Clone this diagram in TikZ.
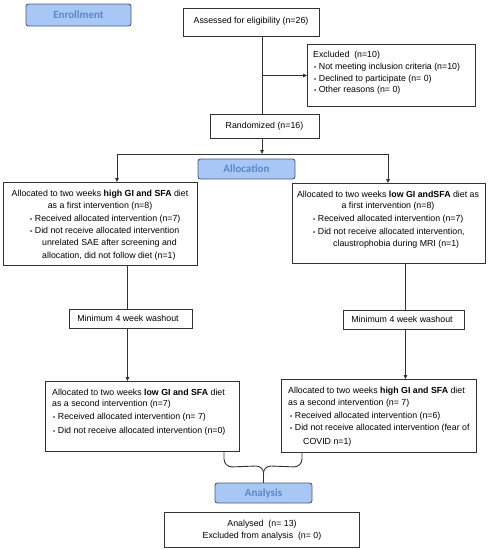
\documentclass[tikz,border=0pt]{standalone}
\usepackage{fontspec}
\setmainfont{Liberation Sans}
\newfontfamily\hdrfont{Carlito}
\usetikzlibrary{arrows.meta}
\definecolor{hdrfill}{HTML}{A9C7F4}
\definecolor{hdrdraw}{HTML}{4B5A78}
\definecolor{hdrtext}{HTML}{5B87C9}
\definecolor{lin}{HTML}{333333}
\newcommand{\bul}{{\fontsize{6}{6}\selectfont\textbullet}\hspace{2.6pt}}
\begin{document}
\begin{tikzpicture}[x=1pt,y=-1pt,
  box/.style={draw=lin, line width=0.9pt, inner sep=0, anchor=north west},
  hdr/.style={draw=hdrdraw, fill=hdrfill, rounded corners=2.5pt, line width=0.9pt,
    font=\hdrfont\bfseries\fontsize{11}{13}\selectfont, text=hdrtext, inner sep=0},
  txt/.style={inner sep=0, font=\fontsize{8.8}{10}\selectfont, text height=6.3pt, text depth=1.8pt},
  tl/.style={txt, anchor=west},
  conn/.style={draw=lin, line width=0.9pt},
  arr/.style={conn, -{Triangle[length=4pt,width=3.6pt]}},
]
\useasboundingbox (0,0) rectangle (489,550);
\fill[white] (0,0) rectangle (489,550);

% headers
\node[hdr, minimum width=105pt, minimum height=22pt] (enr) at (78.5,15) {Enrollment};
\node[hdr, minimum width=97pt, minimum height=20pt] (alloc) at (246.5,169) {Allocation};
\node[hdr, minimum width=97pt, minimum height=20pt] (anal) at (263.5,493) {Analysis};

% boxes
\node[box, minimum width=136pt, minimum height=28pt] (assess) at (183,8) {};
\node[box, minimum width=168pt, minimum height=62pt] (excl) at (307,44) {};
\node[box, minimum width=109pt, minimum height=24pt] (rand) at (210,114) {};
\node[box, minimum width=194pt, minimum height=83pt] (a1) at (3,182) {};
\node[box, minimum width=193pt, minimum height=80pt] (b1) at (292,183) {};
\node[box, minimum width=123pt, minimum height=19pt] (w1) at (69,309) {};
\node[box, minimum width=121pt, minimum height=19pt] (w2) at (343,310) {};
\node[box, minimum width=194pt, minimum height=70pt] (s1) at (45,381) {};
\node[box, minimum width=195pt, minimum height=73pt] (s2) at (281,379) {};
\node[box, minimum width=195pt, minimum height=35pt] (fin) at (164,512) {};

% texts
\node[txt] (t-assess) at (251,21) {Assessed for eligibility (n=26)};
\node[tl] (t-ex1) at (313,55) {Excluded\ \ (n=10)};
\node[tl] (t-ex2) at (314,67) {\bul Not meeting inclusion criteria (n=10)};
\node[tl] (t-ex3) at (314,79) {\bul Declined to participate (n= 0)};
\node[tl] (t-ex4) at (314,90) {\bul Other reasons (n= 0)};
\node[txt] (t-rand) at (264.5,126) {Randomized (n=16)};

\node[txt] (t-a1a) at (100,194) {Allocated to two weeks \textbf{high GI and SFA} diet};
\node[txt] (t-a1b) at (100,206) {as a first intervention (n=8)};
\node[tl] (t-a1c) at (30,219) {\bul Received allocated intervention (n=7)};
\node[tl] (t-a1d) at (30,231) {\bul Did not receive allocated intervention};
\node[tl] (t-a1e) at (42,243) {unrelated SAE after screening and};
\node[tl] (t-a1f) at (42,256) {allocation, did not follow diet (n=1)};

\node[txt] (t-b1a) at (388,195) {Allocated to two weeks \textbf{low GI andSFA} diet as};
\node[txt] (t-b1b) at (388,206) {a first intervention (n=8)};
\node[tl] (t-b1c) at (313,219) {\bul Received allocated intervention (n=7)};
\node[tl] (t-b1d) at (313,232) {\bul Did not receive allocated intervention,};
\node[tl] (t-b1e) at (333,244) {claustrophobia during MRI (n=1)};

\node[txt] (t-w1) at (128,319) {Minimum 4 week washout};
\node[txt] (t-w2) at (402,320) {Minimum 4 week washout};

\node[tl] (t-s1a) at (52,393) {Allocated to two weeks \textbf{low GI and SFA} diet};
\node[tl] (t-s1b) at (52,404) {as a second intervention (n=7)};
\node[tl] (t-s1c) at (53,417) {\bul Received allocated intervention (n= 7)};
\node[tl] (t-s1d) at (53,431) {\bul Did not receive allocated intervention (n=0)};

\node[tl] (t-s2a) at (288,391) {Allocated to two weeks \textbf{high GI and SFA} diet};
\node[tl] (t-s2b) at (288,403) {as a second intervention (n= 7)};
\node[tl] (t-s2c) at (290,416) {\bul Received allocated intervention (n=6)};
\node[tl] (t-s2d) at (290,428) {\bul Did not receive allocated intervention (fear of};
\node[tl] (t-s2e) at (303,442) {COVID n=1)};

\node[txt] (t-f1) at (262,524) {Analysed\ \ (n= 13)};
\node[txt] (t-f2) at (262,536) {Excluded from analysis\ \ (n= 0)};

% connector coordinates
\coordinate (c1) at (262,0);
\coordinate (split) at (262,154);
\coordinate (lsplit) at (117,154);
\coordinate (rsplit) at (388,154);
\coordinate (cl) at (127.5,0);
\coordinate (cr) at (405.5,0);
\coordinate (bl) at (224,0);
\coordinate (br) at (302,0);
\coordinate (tip) at (263.5,473);

% connectors
\draw[conn] (assess.south -| c1) -- (rand.north -| c1);
\draw[arr] (c1 |- excl.west) -- (excl.west);
\draw[arr] (rand.south -| c1) -- (split);
\draw[conn] (lsplit) -- (rsplit);
\draw[arr] (lsplit) -- (lsplit |- a1.north);
\draw[arr] (rsplit) -- (rsplit |- b1.north);
\draw[conn] (a1.south -| cl) -- (w1.north -| cl);
\draw[arr] (w1.south -| cl) -- (s1.north -| cl);
\draw[conn] (b1.south -| cr) -- (w2.north -| cr);
\draw[arr] (w2.south -| cr) -- (s2.north -| cr);
\draw[conn] (s1.south -| bl) -- ++(0,7) to[out=-90,in=180] ++(8,8) -- (256,466) to[out=0,in=90] (tip);
\draw[conn] (s2.south -| br) -- ++(0,6) to[out=-90,in=0] ++(-8,8) -- (271,466) to[out=180,in=90] (tip);
\draw[conn] (tip) -- (anal.north);
\end{tikzpicture}
\end{document}
